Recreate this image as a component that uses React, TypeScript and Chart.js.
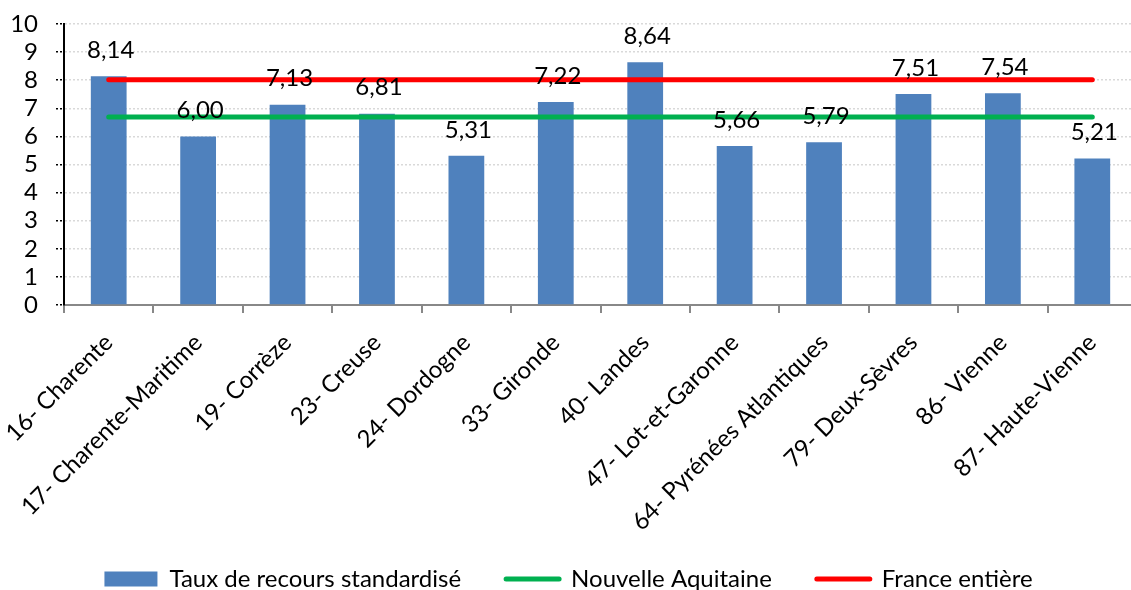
import React, { useEffect, useRef } from "react";
import { Chart, registerables } from "chart.js";

Chart.register(...registerables);

const CATEGORIES = [
  "16- Charente",
  "17- Charente-Maritime",
  "19- Corrèze",
  "23- Creuse",
  "24- Dordogne",
  "33- Gironde",
  "40- Landes",
  "47- Lot-et-Garonne",
  "64- Pyrénées Atlantiques",
  "79- Deux-Sèvres",
  "86- Vienne",
  "87- Haute-Vienne",
];
const TAUX = [8.14, 6.0, 7.13, 6.81, 5.31, 7.22, 8.64, 5.66, 5.79, 7.51, 7.54, 5.21];
const NOUVELLE_AQUITAINE = 6.69;
const FRANCE_ENTIERE = 8.02;
const Y_MIN = 0;
const Y_MAX = 10;
const Y_STEP = 1;
const SERIES_NAMES = ["Taux de recours standardisé", "Nouvelle Aquitaine", "France entière"];

const FONT = "Lato";
const BLUE = "#4F81BD";
const GREEN = "#00B050";
const RED = "#FF0000";

const fmt = (v: number) => v.toFixed(2).replace(".", ",");

const labelPlugin = {
  id: "barLabels",
  afterDatasetsDraw(chart: any) {
    const ctx = chart.ctx;
    const idx = chart.data.datasets.findIndex((d: any) => d.type === "bar");
    const meta = chart.getDatasetMeta(idx);
    ctx.save();
    ctx.font = `24px ${FONT}`;
    ctx.fillStyle = "#000";
    ctx.textAlign = "center";
    ctx.textBaseline = "middle";
    meta.data.forEach((el: any, i: number) => {
      ctx.fillText(fmt(TAUX[i]), el.x + 2, el.y - 26);
    });
    ctx.restore();
  },
};

export default function App() {
  const ref = useRef<HTMLCanvasElement | null>(null);

  useEffect(() => {
    if (!ref.current) return;
    const chart = new Chart(ref.current, {
      type: "bar",
      data: {
        labels: CATEGORIES,
        datasets: [
          {
            type: "bar",
            label: SERIES_NAMES[0],
            data: TAUX,
            backgroundColor: BLUE,
            borderWidth: 0,
            barPercentage: 0.4,
            categoryPercentage: 1,
            order: 1,
          } as any,
          {
            type: "line",
            label: SERIES_NAMES[1],
            data: CATEGORIES.map(() => NOUVELLE_AQUITAINE),
            borderColor: GREEN,
            backgroundColor: GREEN,
            borderWidth: 5,
            borderCapStyle: "round",
            pointRadius: 0,
            fill: false,
            order: 0,
          } as any,
          {
            type: "line",
            label: SERIES_NAMES[2],
            data: CATEGORIES.map(() => FRANCE_ENTIERE),
            borderColor: RED,
            backgroundColor: RED,
            borderWidth: 5,
            borderCapStyle: "round",
            pointRadius: 0,
            fill: false,
            order: 0,
          } as any,
        ],
      },
      options: {
        responsive: false,
        animation: false,
        layout: { padding: { top: 24, right: 3, left: 0, bottom: 0 } },
        plugins: {
          tooltip: { enabled: false },
          legend: {
            position: "bottom",
            labels: {
              usePointStyle: true,
              pointStyleWidth: 53,
              boxHeight: 15,
              padding: 45,
              color: "#000",
              font: { family: FONT, size: 24 },
              generateLabels: () => [
                {
                  text: SERIES_NAMES[0],
                  fillStyle: BLUE,
                  strokeStyle: BLUE,
                  lineWidth: 0,
                  pointStyle: "rect",
                  hidden: false,
                  datasetIndex: 0,
                },
                {
                  text: SERIES_NAMES[1],
                  fillStyle: GREEN,
                  strokeStyle: GREEN,
                  lineWidth: 5,
                  lineCap: "round",
                  pointStyle: "line",
                  hidden: false,
                  datasetIndex: 1,
                },
                {
                  text: SERIES_NAMES[2],
                  fillStyle: RED,
                  strokeStyle: RED,
                  lineWidth: 5,
                  lineCap: "round",
                  pointStyle: "line",
                  hidden: false,
                  datasetIndex: 2,
                },
              ] as any,
            },
          },
        },
        scales: {
          x: {
            type: "category",
            offset: true,
            border: { display: true, color: "#888", width: 2 },
            grid: {
              display: true,
              drawOnChartArea: false,
              drawTicks: true,
              tickLength: 8,
              color: "#888",
              lineWidth: 2,
              offset: true,
            },
            ticks: {
              autoSkip: false,
              minRotation: 45,
              maxRotation: 45,
              padding: 23,
              color: "#000",
              font: { family: FONT, size: 24, lineHeight: 0.3 },
            },
            afterFit: (scale: any) => {
              scale.height = 217;
              scale.paddingLeft = 0;
              scale.paddingRight = 0;
              // let the long rotated labels run past the axis box, as in the reference
              scale._computeLabelArea = () => undefined;
            },
          },
          y: {
            min: Y_MIN,
            max: Y_MAX,
            border: { display: true, color: "#000", width: 2, dash: [2, 2] },
            grid: {
              color: "#d9d9d9",
              lineWidth: 1.5,
              tickLength: 8,
              tickColor: "#000",
              tickBorderDash: [2, 2],
            },
            ticks: {
              stepSize: Y_STEP,
              autoSkip: false,
              padding: 18,
              color: "#000",
              font: { family: FONT, size: 24 },
            },
            afterFit: (scale: any) => {
              scale.width = 64;
              scale.paddingTop = 0;
              scale.paddingBottom = 0;
            },
          },
        },
      },
      plugins: [labelPlugin],
    });
    return () => chart.destroy();
  }, []);

  return (
    <div
      style={{
        position: "fixed",
        left: 0,
        top: 0,
        width: 1131,
        height: 590,
        overflow: "hidden",
        background: "#fff",
      }}
    >
      <canvas ref={ref} width={1140} height={601} style={{ display: "block" }} />
    </div>
  );
}
